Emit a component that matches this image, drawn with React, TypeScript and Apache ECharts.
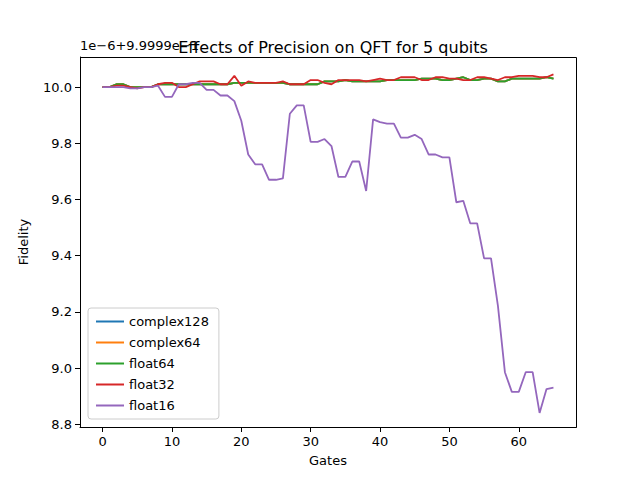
import React, { useEffect, useRef } from 'react';
import * as echarts from 'echarts';

const gates = Array.from({ length: 66 }, (_, i) => i);

const float64 = [10.0, 10.0, 10.01, 10.01, 10.0, 10.0, 10.0, 10.0, 10.01, 10.01, 10.01, 10.01, 10.01, 10.01, 10.01, 10.01, 10.01, 10.01, 10.01, 10.015, 10.015, 10.015, 10.015, 10.015, 10.015, 10.015, 10.015, 10.01, 10.01, 10.01, 10.01, 10.01, 10.02, 10.02, 10.02, 10.025, 10.02, 10.02, 10.02, 10.02, 10.02, 10.025, 10.025, 10.025, 10.025, 10.025, 10.03, 10.03, 10.03, 10.025, 10.025, 10.03, 10.035, 10.025, 10.025, 10.03, 10.03, 10.02, 10.02, 10.03, 10.03, 10.03, 10.03, 10.03, 10.035, 10.03];
const complex128 = float64.slice();
const complex64 = float64.slice();
const float32 = [10.0, 10.0, 10.005, 10.005, 10.0, 9.995, 10.0, 10.0, 10.01, 10.015, 10.015, 10.0, 10.0, 10.01, 10.02, 10.02, 10.02, 10.01, 10.01, 10.04, 10.005, 10.02, 10.015, 10.015, 10.015, 10.015, 10.02, 10.01, 10.01, 10.01, 10.025, 10.025, 10.015, 10.01, 10.025, 10.025, 10.025, 10.025, 10.02, 10.025, 10.03, 10.025, 10.025, 10.035, 10.035, 10.035, 10.025, 10.025, 10.035, 10.035, 10.03, 10.03, 10.025, 10.025, 10.035, 10.035, 10.03, 10.025, 10.035, 10.035, 10.04, 10.04, 10.04, 10.035, 10.035, 10.045];
const float16 = [10.0, 10.0, 10.0, 10.0, 9.995, 9.995, 10.0, 10.0, 10.005, 9.965, 9.965, 10.01, 10.01, 10.015, 10.015, 9.99, 9.99, 9.97, 9.97, 9.95, 9.88, 9.76, 9.725, 9.725, 9.67, 9.67, 9.675, 9.905, 9.935, 9.935, 9.805, 9.805, 9.815, 9.79, 9.68, 9.68, 9.735, 9.735, 9.63, 9.885, 9.875, 9.87, 9.87, 9.82, 9.82, 9.83, 9.815, 9.76, 9.76, 9.75, 9.75, 9.59, 9.595, 9.515, 9.515, 9.39, 9.39, 9.22, 8.985, 8.915, 8.915, 8.985, 8.985, 8.84, 8.925, 8.93];

const xTicks = [0, 10, 20, 30, 40, 50, 60];
const yTicks = [8.8, 9.0, 9.2, 9.4, 9.6, 9.8, 10.0];

const seriesList = [
  { name: 'complex128', data: complex128, color: '#1f77b4' },
  { name: 'complex64', data: complex64, color: '#ff7f0e' },
  { name: 'float64', data: float64, color: '#2ca02c' },
  { name: 'float32', data: float32, color: '#d62728' },
  { name: 'float16', data: float16, color: '#9467bd' },
];

const font = 'DejaVu Sans';

export default function App() {
  const ref = useRef<HTMLDivElement>(null);

  useEffect(() => {
    document.body.style.margin = '0';
    if (!ref.current) return;
    const chart = echarts.init(ref.current, null, { renderer: 'svg' });
    chart.setOption({
      animation: false,
      backgroundColor: '#fff',
      textStyle: { fontFamily: font },
      grid: { left: 80, right: 64, top: 57, bottom: 53 },
      title: {
        text: 'Effects of Precision on QFT for 5 qubits',
        left: 328,
        top: 34,
        textAlign: 'center',
        textStyle: { fontFamily: font, fontSize: 16, fontWeight: 'normal', color: '#000' },
      },
      legend: {
        orient: 'vertical',
        left: 88,
        top: 308,
        itemWidth: 28,
        itemHeight: 2,
        itemGap: 8,
        icon: 'rect',
        padding: [7, 10, 7, 8],
        width: 120,
        borderColor: '#cccccc',
        borderWidth: 1,
        borderRadius: 3,
        backgroundColor: 'rgba(255,255,255,0.8)',
        textStyle: { fontFamily: font, fontSize: 13, color: '#000' },
        data: seriesList.map((s) => s.name),
      },
      graphic: [
        {
          type: 'text',
          left: 80,
          top: 39,
          style: { text: '1e\u22126+9.9999e\u22121', fontFamily: font, fontSize: 13, fill: '#000' },
        },
        {
          type: 'rect',
          shape: { x: 80.5, y: 57.5, width: 496, height: 370 },
          style: { fill: 'none', stroke: '#000', lineWidth: 1 },
          silent: true,
          z: 10,
        },
      ],
      xAxis: {
        type: 'value',
        min: -3.25,
        max: 68.25,
        name: 'Gates',
        nameLocation: 'middle',
        nameGap: 27,
        nameTextStyle: { fontFamily: font, fontSize: 13, color: '#000' },
        axisLine: { onZero: false, lineStyle: { color: '#000' } },
        axisTick: { customValues: xTicks, length: 5, lineStyle: { color: '#000' } },
        axisLabel: { customValues: xTicks, fontFamily: font, fontSize: 13, color: '#000', margin: 8 },
        splitLine: { show: false },
      },
      yAxis: {
        type: 'value',
        min: 8.79,
        max: 10.107,
        name: 'Fidelity',
        nameLocation: 'middle',
        nameGap: 50,
        nameTextStyle: { fontFamily: font, fontSize: 13, color: '#000' },
        axisLine: { show: true, onZero: false, lineStyle: { color: '#000' } },
        axisTick: { show: true, customValues: yTicks, length: 5, lineStyle: { color: '#000' } },
        axisLabel: {
          customValues: yTicks,
          fontFamily: font,
          fontSize: 13,
          color: '#000',
          margin: 8,
          formatter: (v: number) => v.toFixed(1),
        },
        splitLine: { show: false },
      },
      series: seriesList.map((s) => ({
        name: s.name,
        type: 'line',
        data: s.data.map((v, i) => [gates[i], v]),
        showSymbol: false,
        color: s.color,
        lineStyle: { width: 1.8, color: s.color },
      })),
    });
    return () => chart.dispose();
  }, []);

  return <div ref={ref} style={{ width: 640, height: 480 }} />;
}
